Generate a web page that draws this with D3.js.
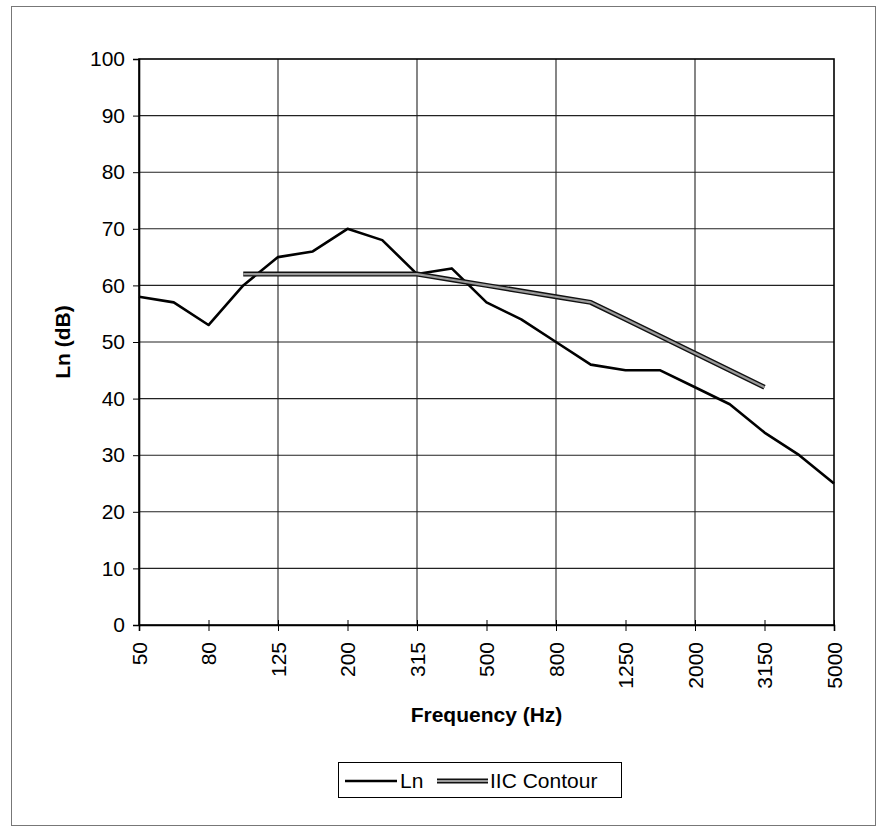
<!DOCTYPE html>
<html>
<head>
<meta charset="utf-8">
<script src="https://cdn.jsdelivr.net/npm/d3@7/dist/d3.min.js"></script>
<style>
  html, body { margin: 0; padding: 0; background: #fff; }
  svg { display: block; }
  text { font-family: "Liberation Sans", Arial, sans-serif; fill: #000; }
</style>
</head>
<body>
<svg id="chart" width="877" height="828"></svg>
<script>
const frequencies = ["50","63","80","100","125","160","200","250","315","400","500","630","800","1000","1250","1600","2000","2500","3150","4000","5000"];
const lnValues = [58,57,53,60,65,66,70,68,62,63,57,54,50,46,45,45,42,39,34,30,25];
const iicFrequencies = ["100","125","160","200","250","315","400","500","630","800","1000","1250","1600","2000","2500","3150"];
const iicValues = [62,62,62,62,62,62,61,60,59,58,57,54,51,48,45,42];
const yTicks = [0,10,20,30,40,50,60,70,80,90,100];
const xLabelFreqs = ["50","80","125","200","315","500","800","1250","2000","3150","5000"];
const xGridFreqs = ["125","315","800","2000"];
const seriesNames = ["Ln", "IIC Contour"];

const svg = d3.select("#chart");
const pL = 139, pR = 834, pT = 59, pB = 625;

const x = d3.scalePoint().domain(frequencies).range([pL, pR]);
const y = d3.scaleLinear().domain([0, 100]).range([pB, pT]);

// outer frame
svg.append("rect").attr("x", 11.5).attr("y", 6.5).attr("width", 864).attr("height", 819)
  .attr("fill", "none").attr("stroke", "#777").attr("stroke-width", 1);

// horizontal gridlines
svg.append("g").selectAll("line").data(yTicks.filter(d => d > 0 && d < 100)).join("line")
  .attr("x1", pL).attr("x2", pR)
  .attr("y1", d => y(d)).attr("y2", d => y(d))
  .attr("stroke", "#222").attr("stroke-width", 1.1);

// vertical gridlines
svg.append("g").selectAll("line").data(xGridFreqs).join("line")
  .attr("x1", d => x(d)).attr("x2", d => x(d))
  .attr("y1", pT).attr("y2", pB)
  .attr("stroke", "#222").attr("stroke-width", 1.1);

// plot border
svg.append("rect").attr("x", pL).attr("y", pT).attr("width", pR - pL).attr("height", pB - pT)
  .attr("fill", "none").attr("stroke", "#000").attr("stroke-width", 1.6);

// y axis
const yAxis = d3.axisLeft(y).tickValues(yTicks).tickSize(6).tickPadding(8);
const gy = svg.append("g").attr("transform", `translate(${pL},0)`).call(yAxis);
gy.select(".domain").attr("stroke", "#000").attr("stroke-width", 1.6);
gy.selectAll(".tick line").attr("stroke", "#000");
gy.selectAll("text").attr("font-size", 21).attr("fill", "#000")
  .attr("font-family", "Liberation Sans, Arial, sans-serif");

// x axis
const xAxis = d3.axisBottom(x).tickValues(xLabelFreqs).tickSize(6).tickPadding(10);
const gx = svg.append("g").attr("transform", `translate(0,${pB})`).call(xAxis);
gx.select(".domain").attr("stroke", "#000").attr("stroke-width", 1.6);
gx.selectAll(".tick line").attr("stroke", "#000").attr("y1", -5);
gx.selectAll("text").attr("font-size", 21).attr("fill", "#000")
  .attr("font-family", "Liberation Sans, Arial, sans-serif")
  .attr("transform", "rotate(-90)")
  .attr("text-anchor", "end")
  .attr("x", -17).attr("y", 0).attr("dy", "0.35em");

// series lines
const lineLn = d3.line().x((d, i) => x(frequencies[i])).y(d => y(d));
svg.append("path").datum(lnValues).attr("d", lineLn)
  .attr("fill", "none").attr("stroke", "#000").attr("stroke-width", 2.6).attr("stroke-linejoin", "round");

const lineIic = d3.line().x((d, i) => x(iicFrequencies[i])).y(d => y(d));
svg.append("path").datum(iicValues).attr("d", lineIic)
  .attr("fill", "none").attr("stroke", "#111").attr("stroke-width", 5).attr("stroke-linejoin", "round");
svg.append("path").datum(iicValues).attr("d", lineIic)
  .attr("fill", "none").attr("stroke", "#9a9a9a").attr("stroke-width", 2.2).attr("stroke-linejoin", "round");

// axis titles
svg.append("text").attr("x", (pL + pR) / 2).attr("y", 722)
  .attr("text-anchor", "middle").attr("font-size", 21).attr("font-weight", "bold")
  .text("Frequency (Hz)");
svg.append("text").attr("transform", `translate(70,${(pT + pB) / 2}) rotate(-90)`)
  .attr("text-anchor", "middle").attr("font-size", 21).attr("font-weight", "bold")
  .text("Ln (dB)");

// legend
const lg = svg.append("g");
lg.append("rect").attr("x", 338.5).attr("y", 762.5).attr("width", 283).attr("height", 35)
  .attr("fill", "#fff").attr("stroke", "#000").attr("stroke-width", 1);
lg.append("line").attr("x1", 345).attr("x2", 397).attr("y1", 781).attr("y2", 781)
  .attr("stroke", "#000").attr("stroke-width", 2.6);
lg.append("text").attr("x", 400).attr("y", 781).attr("dy", "0.35em").attr("font-size", 21).text(seriesNames[0]);
lg.append("line").attr("x1", 437).attr("x2", 488).attr("y1", 781).attr("y2", 781)
  .attr("stroke", "#111").attr("stroke-width", 5);
lg.append("line").attr("x1", 437).attr("x2", 488).attr("y1", 781).attr("y2", 781)
  .attr("stroke", "#9a9a9a").attr("stroke-width", 2.2);
lg.append("text").attr("x", 490).attr("y", 781).attr("dy", "0.35em").attr("font-size", 21).text(seriesNames[1]);
</script>
</body>
</html>
